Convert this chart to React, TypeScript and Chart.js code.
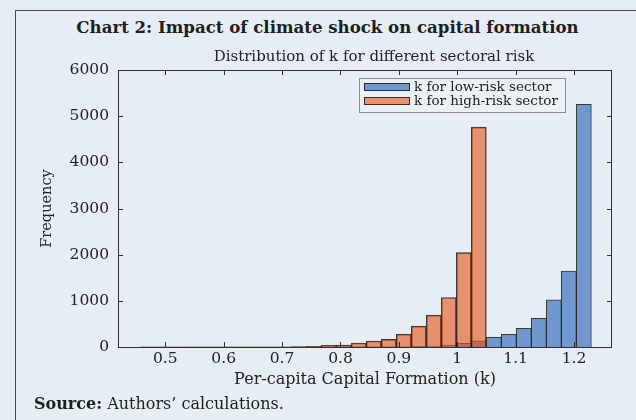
import React, { useEffect, useRef } from "react";
import { Chart, registerables } from "chart.js";

Chart.register(...registerables);

// ---- data ----
const binCenters = [
  0.4715, 0.4972, 0.5229, 0.5486, 0.5743, 0.6, 0.6257, 0.6514, 0.6771, 0.7028,
  0.7285, 0.7542, 0.7799, 0.8056, 0.8313, 0.857, 0.8827, 0.9084, 0.9341, 0.9598,
  0.9855, 1.0112, 1.0369, 1.0626, 1.0883, 1.114, 1.1397, 1.1654, 1.1911, 1.2168,
];
const lowRiskCounts = [
  0, 0, 0, 0, 0, 0, 0, 0, 0, 0,
  0, 0, 0, 1, 1, 2, 3, 6, 12, 22,
  43, 80, 136, 210, 274, 403, 619, 1021, 1647, 5257,
];
const highRiskCounts = [
  1, 1, 1, 2, 2, 2, 3, 3, 4, 5,
  7, 15, 36, 43, 86, 129, 165, 280, 453, 690,
  1072, 2043, 4761, 0, 0, 0, 0, 0, 0, 0,
];
const xTickValues = [0.5, 0.6, 0.7, 0.8, 0.9, 1.0, 1.1, 1.2];
const yTickValues = [0, 1000, 2000, 3000, 4000, 5000, 6000];
const legendLabels = ["k for low-risk sector", "k for high-risk sector"];

const BG = "#e6edf4";
const TEXT = "#222222";
const BLUE = "rgb(112,151,206)";
const ORANGE = "rgba(233,84,18,0.6)";
const EDGE = "rgba(25,25,25,0.85)";
const FONT = "'DejaVu Serif', serif";

const decorPlugin = {
  id: "decor",
  afterDraw(chart: any) {
    const { ctx, chartArea: a, scales } = chart;
    ctx.save();
    // box
    ctx.strokeStyle = "#2e2e2e";
    ctx.lineWidth = 1;
    ctx.strokeRect(a.left + 0.5, a.top + 0.5, a.right - a.left - 1, a.bottom - a.top);
    // inward ticks
    const tl = 5;
    ctx.beginPath();
    for (const v of yTickValues) {
      const y = Math.round(scales.y.getPixelForValue(v)) + 0.5;
      ctx.moveTo(a.left, y);
      ctx.lineTo(a.left + tl, y);
      ctx.moveTo(a.right, y);
      ctx.lineTo(a.right - tl, y);
    }
    for (const v of xTickValues) {
      const x = Math.round(scales.x.getPixelForValue(v)) + 0.5;
      ctx.moveTo(x, a.bottom);
      ctx.lineTo(x, a.bottom - tl);
      ctx.moveTo(x, a.top);
      ctx.lineTo(x, a.top + tl);
    }
    ctx.stroke();

    // subtitle
    ctx.fillStyle = TEXT;
    ctx.font = `15px ${FONT}`;
    ctx.textAlign = "center";
    ctx.textBaseline = "middle";
    ctx.fillText("Distribution of k for different sectoral risk", (a.left + a.right) / 2 + 9, a.top - 13);

    // legend
    const lx = a.right - 253;
    const ly = a.top + 8;
    const lw = 206;
    const lh = 34;
    ctx.fillStyle = "#ecf1f6";
    ctx.fillRect(lx, ly, lw, lh);
    ctx.strokeStyle = "#8c8c8c";
    ctx.strokeRect(lx + 0.5, ly + 0.5, lw, lh);
    const colors = [BLUE, ORANGE];
    ctx.font = `13.5px ${FONT}`;
    ctx.textAlign = "left";
    legendLabels.forEach((lab, i) => {
      const ry = ly + 5 + i * 14;
      ctx.fillStyle = BG;
      ctx.fillRect(lx + 5, ry, 46, 8);
      ctx.fillStyle = colors[i];
      ctx.fillRect(lx + 5, ry, 46, 8);
      ctx.strokeStyle = EDGE;
      ctx.strokeRect(lx + 5.5, ry + 0.5, 45, 7);
      ctx.fillStyle = TEXT;
      ctx.fillText(lab, lx + 55, ry + 4.5);
    });
    ctx.restore();
  },
};

export default function App() {
  const ref = useRef<HTMLCanvasElement>(null);
  useEffect(() => {
    if (!ref.current) return;
    const mk = (counts: number[]) => binCenters.map((x, i) => ({ x, y: counts[i] }));
    const common = {
      barPercentage: 1,
      categoryPercentage: 1,
      grouped: false,
      borderColor: EDGE,
      borderWidth: 1,
      borderSkipped: "start",
    };
    const chart = new Chart(ref.current, {
      type: "bar",
      data: {
        datasets: [
          { ...common, label: legendLabels[0], data: mk(lowRiskCounts), backgroundColor: BLUE, order: 2 } as any,
          { ...common, label: legendLabels[1], data: mk(highRiskCounts), backgroundColor: ORANGE, order: 1 } as any,
        ],
      },
      options: {
        animation: false,
        responsive: false,
        maintainAspectRatio: false,
        layout: { padding: { left: 0, right: 24, top: 70, bottom: 0 } },
        plugins: { legend: { display: false }, tooltip: { enabled: false }, title: { display: false } },
        scales: {
          x: {
            type: "linear",
            min: 0.419,
            max: 1.265,
            offset: false,
            grid: { display: false, drawTicks: false },
            border: { display: false },
            afterBuildTicks: (s: any) => {
              s.ticks = xTickValues.map((value) => ({ value }));
            },
            ticks: {
              font: { family: FONT, size: 15.5 },
              color: TEXT,
              padding: 3,
              maxRotation: 0,
              autoSkip: false,
              callback: (v: any) => String(Math.round(Number(v) * 10) / 10),
            },
            title: {
              display: true,
              text: "Per-capita Capital Formation (k)",
              font: { family: FONT, size: 16 },
              color: TEXT,
              padding: { top: 0, bottom: 30.4 },
            },
            afterFit: (s: any) => {
              s.height = 73;
            },
          },
          y: {
            type: "linear",
            min: 0,
            max: 6000,
            grid: { display: false, drawTicks: false },
            border: { display: false },
            afterBuildTicks: (s: any) => {
              s.ticks = yTickValues.map((value) => ({ value }));
            },
            ticks: {
              font: { family: FONT, size: 15.5 },
              color: TEXT,
              padding: 9,
              callback: (v: any) => String(v),
            },
            title: {
              display: true,
              text: "Frequency",
              font: { family: FONT, size: 14.5 },
              color: TEXT,
              padding: { top: 38.3, bottom: 0 },
            },
            afterFit: (s: any) => {
              s.width = 118;
            },
          },
        },
      },
      plugins: [decorPlugin],
    } as any);
    return () => chart.destroy();
  }, []);

  return (
    <div style={{ position: "absolute", left: 0, top: 0, width: 636, height: 420, background: BG, overflow: "hidden" }}>
      <div
        style={{
          position: "absolute",
          left: 15,
          top: 10,
          width: 640,
          height: 430,
          border: "1.5px solid #4a4a4a",
          boxSizing: "border-box",
        }}
      />
      <div
        style={{
          position: "absolute",
          left: 15,
          width: 625,
          top: 17,
          textAlign: "center",
          font: `bold 16.6px ${FONT}`,
          color: "#1e1e1e",
          whiteSpace: "nowrap",
        }}
      >
        Chart 2: Impact of climate shock on capital formation
      </div>
      <canvas ref={ref} width={636} height={420} style={{ position: "absolute", left: 0, top: 0, width: 636, height: 420 }} />
      <div
        style={{
          position: "absolute",
          left: 34,
          top: 394,
          font: `16px ${FONT}`,
          color: "#1e1e1e",
          whiteSpace: "nowrap",
        }}
      >
        <b>Source:</b> Authors’ calculations.
      </div>
    </div>
  );
}
